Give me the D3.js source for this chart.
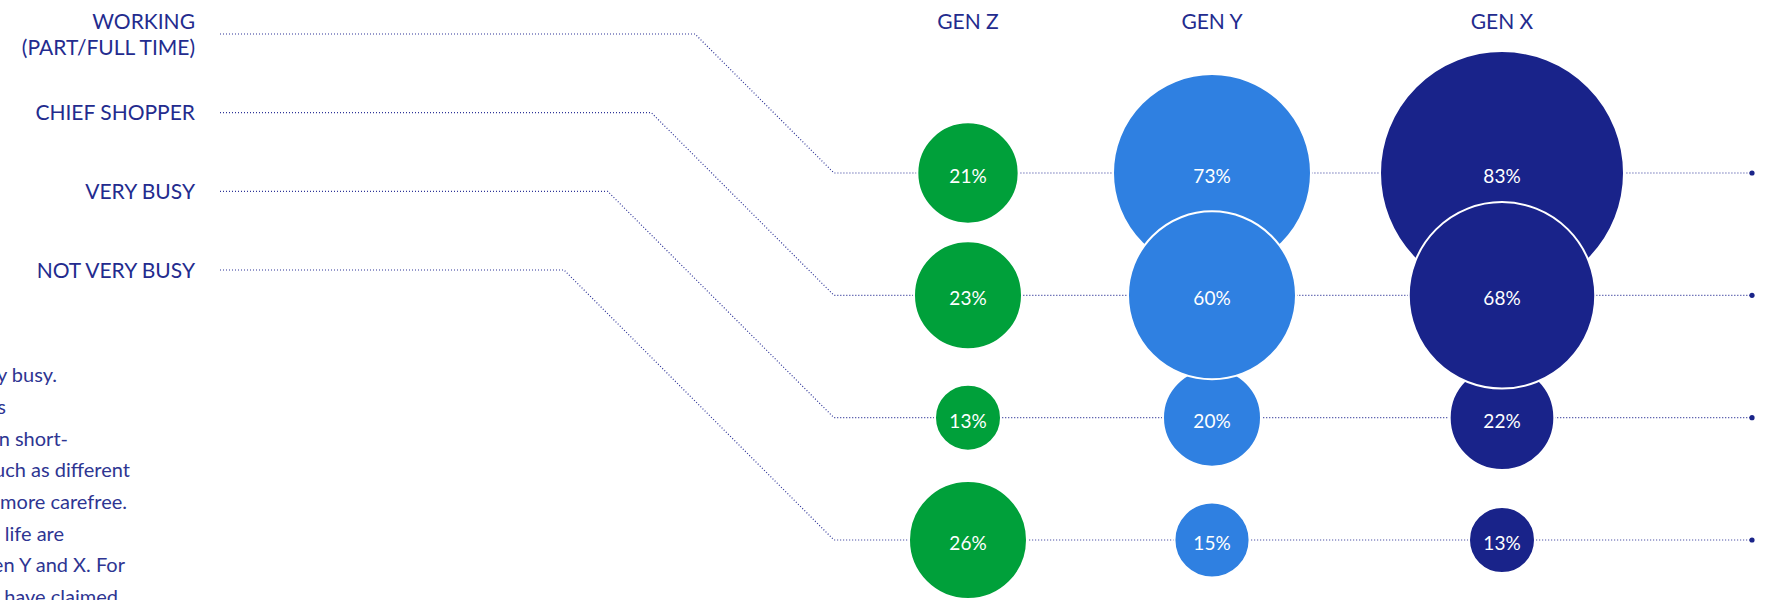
<!DOCTYPE html>
<html>
<head lang="en">
    <meta charset="UTF-8">
    <script src="https://cdn.jsdelivr.net/npm/d3@7/dist/d3.min.js"></script>
    <style>
        body { margin: 0; background: #fff; }
        svg { display: block; font-family: Lato, "Open Sans", sans-serif; }
    </style>
</head>
<body>
<svg width="1774" height="600"></svg>
<script>
    // data
    var rowKeys = ['working', 'shopper', 'busy', 'notBusy'];
    var rowLabels = [['WORKING', '(PART/FULL TIME)'], ['CHIEF SHOPPER'], ['VERY BUSY'], ['NOT VERY BUSY']];
    var gens = ['GEN Z', 'GEN Y', 'GEN X'];
    var genZ = [21, 23, 13, 26];
    var genY = [73, 60, 20, 15];
    var genX = [83, 68, 22, 13];
    var bodyLines = [
        'say they are very busy.',
        'Their priorities',
        'are more focused on short-',
        'term goals, such as different',
        'experiences, and more carefree.',
        'Responsibilities in life are',
        'higher for Gen Y and X. For',
        'example, 83% of Gen X have claimed'
    ];
    var bodyEnds = [57, 6, 68, 130, 127, 64, 125, 118];

    var colors = {
        NAVY: '#1a2489',
        TEXT: '#232b8e',
        BODY: '#2e3592',
        LINE: '#2e3497',
        'GEN Z': '#00a03a',
        'GEN Y': '#2f80e1',
        'GEN X': '#19238a'
    };

    var svg = d3.select('svg');

    var labelY = d3.scalePoint().domain(rowKeys).range([34, 270]);
    var rowY = d3.scalePoint().domain(rowKeys).range([173, 540]);
    var x = d3.scaleOrdinal().domain(gens).range([968, 1212, 1502]);
    var r = d3.scaleLinear().domain([0, 13, 20, 26, 60, 73, 83]).range([0, 33, 49, 59, 84, 99, 122]);

    var lineStart = 220, joinX = 834, lineEnd = 1752;

    // connector lines
    var connector = d3.line();
    var g = svg.append('g');
    g.selectAll('.conn')
        .data(rowKeys)
        .enter()
        .append('path')
        .attr('d', function (k) {
            var ly = labelY(k), ry = rowY(k);
            return connector([[lineStart, ly], [joinX - (ry - ly), ly], [joinX, ry], [lineEnd, ry]]);
        })
        .attr('fill', 'none')
        .attr('stroke', colors.LINE)
        .attr('stroke-width', 1.2)
        .attr('stroke-dasharray', '1 2');

    g.selectAll('.enddot')
        .data(rowKeys)
        .enter()
        .append('circle')
        .attr('cx', lineEnd)
        .attr('cy', function (k) { return rowY(k); })
        .attr('r', 2.6)
        .attr('fill', colors.NAVY);

    // row labels
    g.selectAll('.rowlabel')
        .data(rowKeys)
        .enter()
        .append('text')
        .attr('text-anchor', 'end')
        .attr('fill', colors.TEXT)
        .style('font-size', '21px')
        .each(function (k, i) {
            var lines = rowLabels[i];
            var t = d3.select(this);
            lines.forEach(function (s, j) {
                t.append('tspan')
                    .attr('x', 195)
                    .attr('y', labelY(k) + (j - (lines.length - 1) / 2) * 26)
                    .attr('dy', '0.36em')
                    .text(s);
            });
        });

    // column headers
    g.selectAll('.gen')
        .data(gens)
        .enter()
        .append('text')
        .attr('x', function (d) { return x(d); })
        .attr('y', 21)
        .attr('dy', '0.36em')
        .attr('text-anchor', 'middle')
        .attr('fill', colors.TEXT)
        .style('font-size', '21px')
        .text(function (d) { return d; });

    // bubbles
    var series = [genZ, genY, genX];
    var cells = [];
    gens.forEach(function (gen, gi) {
        rowKeys.forEach(function (k, ri) {
            cells.push({gen: gen, row: k, ri: ri, value: series[gi][ri]});
        });
    });

    var bubble = g.selectAll('.bubble')
        .data(cells)
        .enter()
        .append('g')
        .attr('transform', function (d) { return 'translate(' + x(d.gen) + ',' + rowY(d.row) + ')'; });

    bubble.append('circle')
        .attr('r', function (d) { return r(d.value); })
        .attr('fill', function (d) { return colors[d.gen]; })
        .attr('stroke', '#fff')
        .attr('stroke-width', 2);

    bubble.append('text')
        .attr('text-anchor', 'middle')
        .attr('y', 3)
        .attr('dy', '0.36em')
        .attr('fill', '#fff')
        .style('font-size', '19px')
        .text(function (d) { return d.value + '%'; });

    // second row sits on top of its neighbours
    bubble.filter(function (d) { return d.ri === 1; }).raise();

    // body copy, cut off at the left edge as in the source
    g.selectAll('.body')
        .data(bodyLines)
        .enter()
        .append('text')
        .attr('x', function (d, i) { return bodyEnds[i]; })
        .attr('y', function (d, i) { return 375 + i * 31.7; })
        .attr('dy', '0.36em')
        .attr('text-anchor', 'end')
        .attr('fill', colors.BODY)
        .style('font-size', '20px')
        .text(function (d) { return d; });
</script>
</body>
</html>
